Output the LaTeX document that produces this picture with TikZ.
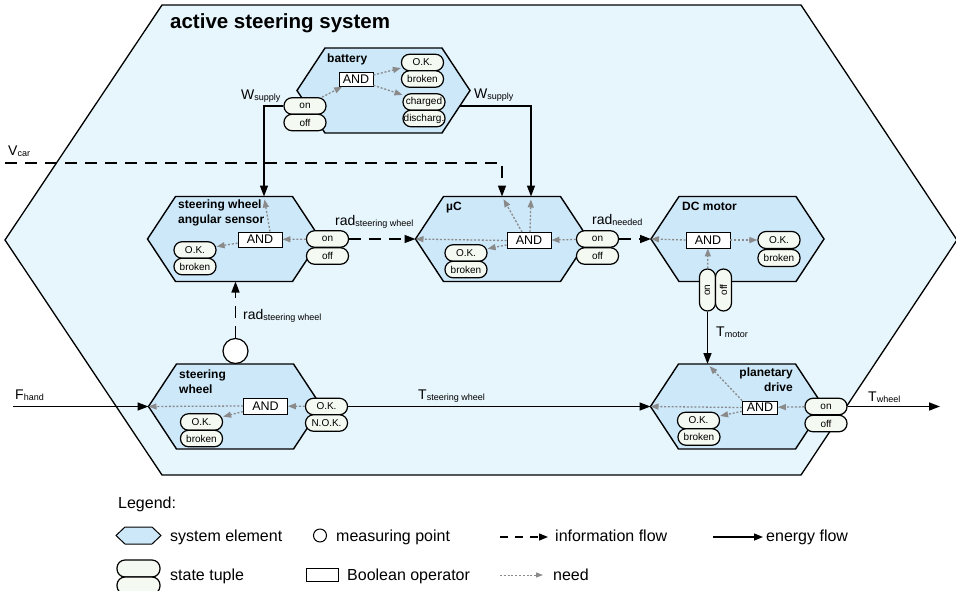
\documentclass[tikz,border=0pt]{standalone}
\usepackage{fontspec}
\setmainfont{Liberation Sans}
\usetikzlibrary{arrows.meta}
\definecolor{sysfill}{HTML}{E7F5FC}
\definecolor{elfill}{HTML}{CDE8F9}
\definecolor{stfill}{HTML}{F4F9F1}
\definecolor{needc}{HTML}{8A8A8A}
\newcommand\fs[1]{\fontsize{#1}{#1}\selectfont}
\newcommand\fl[2]{{\fs{14}#1}\raisebox{-1pt}{\fs{9}#2}}
\newcommand\hexel[3]{%
  \draw[elem] ({#2-86.5},#3) -- ({#2-58.5},{#3-42.5}) -- ({#2+58.5},{#3-42.5}) -- ({#2+86.5},#3) -- ({#2+58.5},{#3+42.5}) -- ({#2-58.5},{#3+42.5}) -- cycle;
  \coordinate (#1-w) at ({#2-86.5},#3);
  \coordinate (#1-e) at ({#2+86.5},#3);}
\begin{document}
\begin{tikzpicture}[x=1pt,y=-1pt,
  elem/.style={draw=black, line width=1.4pt, fill=elfill, line join=miter},
  st/.style={rectangle, rounded corners=8pt, draw=black, line width=1.2pt, fill=stfill, minimum width=42pt, minimum height=16.5pt, inner sep=0pt, font=\fs{10}},
  vst/.style={st, minimum height=16pt, rotate=90},
  andbox/.style={draw=black, line width=0.9pt, fill=white, inner sep=0pt, minimum width=44pt, minimum height=16pt, font=\fs{12.5}},
  need/.style={draw=needc, line width=1.3pt, dash pattern=on 2pt off 1.8pt, -{Triangle[length=8pt,width=6pt]}},
  energy/.style={draw=black, line width=1.4pt, -{Triangle[length=11pt,width=8pt]}},
  info/.style={energy, dash pattern=on 12pt off 8pt},
  ellabel/.style={font=\bfseries\fs{12}, inner sep=0pt, anchor=base west},
  flow/.style={inner sep=0pt, anchor=base west},
  legtext/.style={inner sep=0pt, anchor=base west, font=\fs{16}}]
\useasboundingbox (0,0) rectangle (956,590);
% system boundary
\draw[fill=sysfill, line width=1.3pt, line join=miter] (5,240) -- (162,5) -- (801,5) -- (957,240) -- (801,475) -- (162,475) -- cycle;
\node[font=\bfseries\fs{20.5}, anchor=base west, inner sep=0pt] (title) at (170,28) {active steering system};
% elements
\hexel{bat}{383.5}{90.5}
\hexel{swas}{234}{239}
\hexel{uc}{502}{239}
\hexel{dc}{737.5}{239}
\hexel{sw}{235}{406.5}
\hexel{pd}{737}{406.5}
\node[ellabel] (lbat) at (327,62) {battery};
\node[ellabel] (lswas1) at (178,208) {steering wheel};
\node[ellabel] (lswas2) at (178,223) {angular sensor};
\node[ellabel] (luc) at (446,210) {µC};
\node[ellabel] (ldc) at (682,210) {DC motor};
\node[ellabel] (lsw1) at (179,378.5) {steering};
\node[ellabel] (lsw2) at (179,393) {wheel};
\node[ellabel, anchor=base east] (lpd1) at (793,376.5) {planetary};
\node[ellabel, anchor=base east] (lpd2) at (793,391) {drive};
% battery
\node[st] (bon) at (305,106) {on};
\node[st] (boff) at (305,122.5) {off};
\node[st] (bok) at (422.5,62.5) {O.K.};
\node[st] (bbr) at (422.5,79) {broken};
\node[st] (bch) at (424,102) {charged};
\node[st] (bdis) at (424,118.5) {discharg.};
\node[andbox, minimum width=34pt, minimum height=13.5pt] (band) at (356,79.5) {AND};
% steering wheel angular sensor
\node[st] (son) at (327.5,239) {on};
\node[st] (soff) at (327.5,256) {off};
\node[st] (sok) at (195,250) {O.K.};
\node[st] (sbr) at (195,266.5) {broken};
\node[andbox, minimum height=15pt] (sand) at (260,239.5) {AND};
% microcontroller
\node[st] (uon) at (597.5,239) {on};
\node[st] (uoff) at (597.5,256) {off};
\node[st] (uok) at (466,253) {O.K.};
\node[st] (ubr) at (466,269.5) {broken};
\node[andbox] (uand) at (529,240.5) {AND};
% DC motor
\node[st, minimum height=17pt] (dok) at (779,240) {O.K.};
\node[st, minimum height=17pt] (dbr) at (779,258) {broken};
\node[andbox] (dand) at (708,240) {AND};
\node[vst] (don) at (707.5,290) {on};
\node[vst] (doff) at (723.5,290) {off};
% steering wheel
\node[st] (wok) at (201.5,422) {O.K.};
\node[st] (wbr) at (201.5,438.5) {broken};
\node[st] (wrok) at (326.5,406.5) {O.K.};
\node[st] (wnok) at (326.5,423) {N.O.K.};
\node[andbox] (wand) at (265.5,406) {AND};
% planetary drive
\node[st] (pok) at (698.5,420.5) {O.K.};
\node[st] (pbr) at (699,437) {broken};
\node[st] (pon) at (826,406.5) {on};
\node[st] (poff) at (826,423.5) {off};
\node[andbox, minimum width=35pt, minimum height=13pt] (pand) at (760,407.5) {AND};
% measuring point
\node[circle, draw=black, line width=1.2pt, fill=white, minimum size=25pt, inner sep=0pt] (mp) at (235.5,351) {};
% connector end points
\coordinate (swas-in) at (264,196.5);
\coordinate (uc-vin) at (502,196.5);
\coordinate (uc-win) at (531,196.5);
\coordinate (bat-out) at (460,106);
\coordinate (vcar-in) at (5,163);
\coordinate (swas-bot) at (235.5,281.5);
\coordinate (pd-top) at (707.5,364);
\coordinate (fhand-in) at (13,406.5);
\coordinate (twheel-out) at (940,406.5);
% needs
\draw[need] (bon) -- (band);
\draw[need] (band) -- (bok);
\draw[need] (band) -- (bch);
\draw[need] (son) -- (sand);
\draw[need] (sand) -- (sok);
\draw[need, shorten >=3pt] ([xshift=10pt]sand.north) -- (swas-in);
\draw[need] (uon) -- (uand);
\draw[need] (uand.west) -- (uc-w);
\draw[need] (uand) -- (uok);
\draw[need, shorten >=3pt] ([xshift=-7pt]uand.north) -- (uc-vin);
\draw[need, shorten >=3pt] ([xshift=1pt]uand.north) -- (uc-win);
\draw[need] (dand.west) -- (dc-w);
\draw[need] (dand) -- (dok);
\draw[need] (don) -- (dand);
\draw[need] (wrok) -- (wand);
\draw[need] (wand.west) -- (sw-w);
\draw[need] (wand) -- (wok);
\draw[need] (pon) -- (pand);
\draw[need] (pand.west) -- (pd-w);
\draw[need] (pand) -- (pok);
\draw[need, shorten >=3pt] (pand.north west) -- (pd-top);
% flows
\draw[energy] (bon.west) -| (swas-in);
\draw[energy] (bat-out) -| (uc-win);
\draw[info] (vcar-in) -| (uc-vin);
\draw[info] (son.east) -- (uc-w);
\draw[info] (uon.east) -- (dc-w);
\draw[energy] (don) -- (pd-top);
\draw[info] (mp) -- (swas-bot);
\draw[energy] (fhand-in) -- (sw-w);
\draw[energy] (wrok.east) -- (pd-w);
\draw[energy] (pon.east) -- (twheel-out);
% flow labels
\node[flow] (lw1) at (241,99) {\fl{W}{supply}};
\node[flow] (lw2) at (474,98.5) {\fl{W}{supply}};
\node[flow] (lvcar) at (8,155) {\fl{V}{car}};
\node[flow] (lrad1) at (335,225) {\fl{rad}{steering wheel}};
\node[flow] (lrad2) at (592,224) {\fl{rad}{needed}};
\node[flow] (lrad3) at (243,319) {\fl{rad}{steering wheel}};
\node[flow] (ltm) at (716,336) {\fl{T}{motor}};
\node[flow] (lfh) at (15,399) {\fl{F}{hand}};
\node[flow] (lts) at (418,399.5) {\fl{T}{steering wheel}};
\node[flow] (ltw) at (868,401) {\fl{T}{wheel}};
% legend
\node[legtext] (leg) at (118,508) {Legend:};
\draw[elem, line width=1pt] (116,535.5) -- (125,527) -- (152,527) -- (161,535.5) -- (152,544) -- (125,544) -- cycle;
\node[legtext] (legsys) at (170,541) {system element};
\node[circle, draw=black, line width=1pt, fill=white, minimum size=13pt, inner sep=0pt] (legmp) at (320,535.5) {};
\node[legtext] (legmpt) at (336,541) {measuring point};
\coordinate (li1) at (500,537);
\coordinate (li2) at (548,537);
\draw[info, dash pattern=on 8pt off 7pt, -{Triangle[length=9pt,width=7pt]}] (li1) -- (li2);
\node[legtext] (leginf) at (555,541) {information flow};
\coordinate (le1) at (713,537);
\coordinate (le2) at (763,537);
\draw[energy, -{Triangle[length=9pt,width=7pt]}] (le1) -- (le2);
\node[legtext] (legen) at (766,541) {energy flow};
\node[st, minimum width=43pt, minimum height=17pt] (legst1) at (138.5,568.5) {};
\node[st, minimum width=43pt, minimum height=17pt] (legst2) at (138.5,585.5) {};
\node[legtext] (legstt) at (170,580) {state tuple};
\node[andbox, minimum width=32pt, minimum height=13pt] (legand) at (322,574.5) {};
\node[legtext] (legbo) at (347,580) {Boolean operator};
\coordinate (ln1) at (500,575);
\coordinate (ln2) at (543,575);
\draw[need, line width=1pt, -{Triangle[length=7pt,width=5pt]}] (ln1) -- (ln2);
\node[legtext] (legneed) at (553,580) {need};
\end{tikzpicture}
\end{document}
